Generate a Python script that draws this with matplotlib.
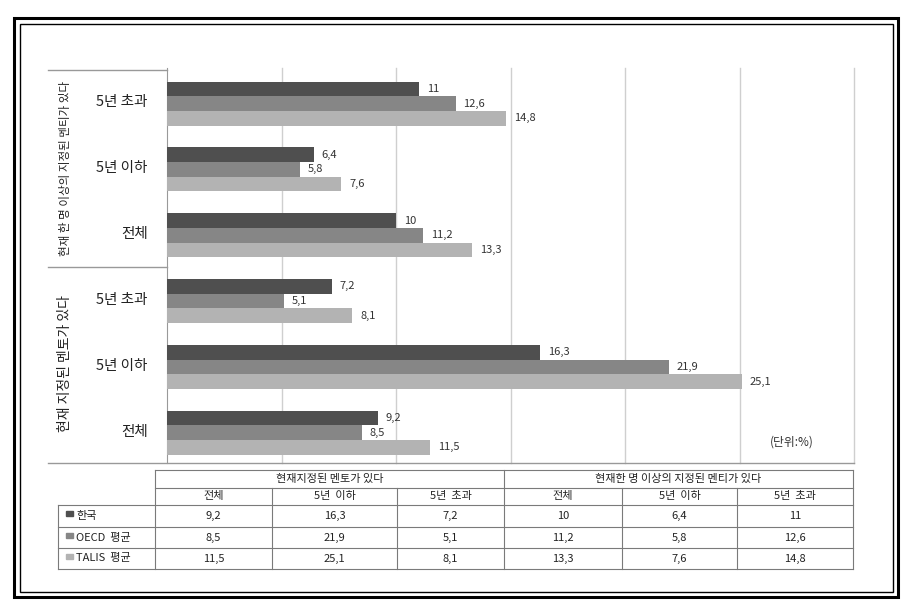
import numpy as np
import matplotlib.pyplot as plt
from matplotlib.patches import Rectangle

plt.rcParams['font.family'] = ['Noto Sans CJK KR', 'DejaVu Sans']

groups = ['현재 지정된 멘토가 있다', '현재 한 명 이상의 지정된 멘티가 있다']
periods = ['전체', '5년 이하', '5년 초과']
table_periods = ['전체', '5년  이하', '5년  초과']
series = ['한국', 'OECD  평균', 'TALIS  평균']
# order: mentor (전체, 5년 이하, 5년 초과), mentee (전체, 5년 이하, 5년 초과)
korea = [9.2, 16.3, 7.2, 10, 6.4, 11]
oecd = [8.5, 21.9, 5.1, 11.2, 5.8, 12.6]
talis = [11.5, 25.1, 8.1, 13.3, 7.6, 14.8]
colors = ['#4f4f4f', '#868686', '#b3b3b3']

W, H = 916, 607
fig = plt.figure(figsize=(W / 100, H / 100), dpi=100)


def px(x0, y0, x1, y1):
    return [x0 / W, 1 - y1 / H, (x1 - x0) / W, (y1 - y0) / H]


def fmt(v):
    return f'{v:g}'.replace('.', ',')


# bar chart
ax = fig.add_axes(px(167, 68, 854, 463))
y = np.arange(6)
h = 0.223
for k, (vals, c) in enumerate(zip([korea, oecd, talis], colors)):
    pos = y + h - k * h - 0.04
    ax.barh(pos, vals, height=h, color=c, zorder=3)
    for p, v in zip(pos, vals):
        ax.text(v + 0.35, p, fmt(v), va='center', ha='left', fontsize=8,
                color='#333333')

ax.set_xlim(0, 30)
ax.set_ylim(-0.5, 5.5)
ax.set_xticks(range(5, 31, 5))
ax.set_xticklabels([])
ax.set_yticks(y)
ax.set_yticklabels(periods * 2, fontsize=10.5, color='#222222')
ax.tick_params(axis='both', length=0)
ax.tick_params(axis='y', pad=14)
ax.grid(axis='x', color='#cfcfcf', lw=1, zorder=0, clip_on=False)
for s in ['top', 'right', 'bottom']:
    ax.spines[s].set_visible(False)
ax.spines['left'].set_color('#999999')

# overlay in pixel coordinates
ov = fig.add_axes([0, 0, 1, 1])
ov.set_xlim(0, W)
ov.set_ylim(H, 0)
ov.axis('off')
ov.text(792, 442, '(단위:%)', ha='center', va='center', fontsize=8.5,
        color='#333333')

# double frame
ov.add_patch(Rectangle((14, 18), 884, 579, fill=False, lw=2.2, ec='black'))
ov.add_patch(Rectangle((19.5, 23.5), 873, 568, fill=False, lw=1.0, ec='black'))

# label box
line = dict(color='#999999', lw=1)
ov.plot([48, 167], [70, 70], **line)
ov.plot([48, 167], [267, 267], **line)
ov.plot([48, 854], [463, 463], **line)
ov.text(65, 364, groups[0], rotation=90, ha='center', va='center',
        fontsize=10, color='#222222')
ov.text(65, 168, groups[1], rotation=90, ha='center', va='center',
        fontsize=8.3, color='#222222')

# table
tl = dict(color='#7a7a7a', lw=0.8)
col_x = [155, 272, 397, 504, 622, 737, 853]
row_y = [470, 488, 505, 527, 548, 569]
ov.plot([155, 853], [470, 470], **tl)
ov.plot([155, 853], [488, 488], **tl)
for yy in row_y[2:]:
    ov.plot([58, 853], [yy, yy], **tl)
ov.plot([58, 58], [505, 569], **tl)
for xx in [155, 504, 853]:
    ov.plot([xx, xx], [470, 569], **tl)
for xx in [272, 397, 622, 737]:
    ov.plot([xx, xx], [488, 569], **tl)

tk = dict(ha='center', va='center', fontsize=8, color='#222222')
ov.text((155 + 504) / 2, 479, groups[0].replace('현재 ', '현재'), **tk)
ov.text((504 + 853) / 2, 479, groups[1].replace('현재 ', '현재'), **tk)
for i in range(6):
    cx = (col_x[i] + col_x[i + 1]) / 2
    ov.text(cx, 496.5, table_periods[i % 3], **tk)
    for r, vals in enumerate([korea, oecd, talis]):
        cy = (row_y[r + 2] + row_y[r + 3]) / 2
        ov.text(cx, cy, fmt(vals[i]), **tk)

for r, (name, c) in enumerate(zip(series, colors)):
    cy = (row_y[r + 2] + row_y[r + 3]) / 2
    ov.add_patch(Rectangle((66, cy - 5), 7, 5, color=c))
    ov.text(76, cy, name, ha='left', va='center', fontsize=8, color='#222222')

fig.savefig('out.png', dpi=100)
